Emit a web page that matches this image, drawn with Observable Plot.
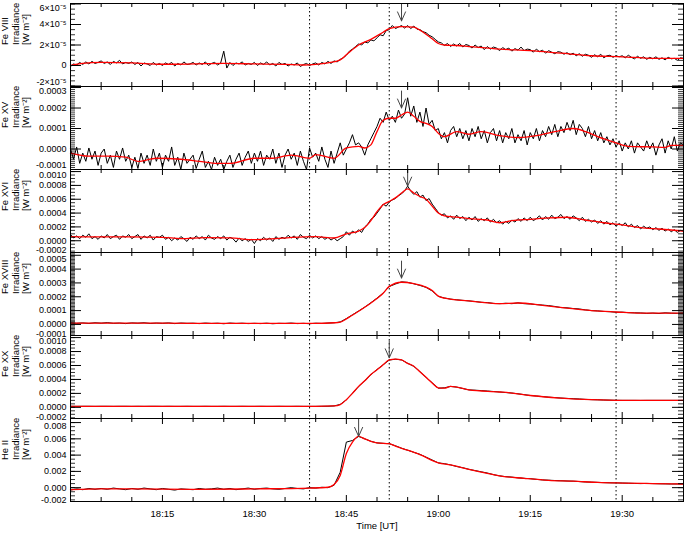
<!DOCTYPE html>
<html><head><meta charset="utf-8">
<script src="https://cdn.jsdelivr.net/npm/d3@7"></script>
<script src="https://cdn.jsdelivr.net/npm/@observablehq/plot@0.6"></script>
<style>
body{margin:0;background:#fff;}
#chart{width:685px;}
#chart svg{display:block;overflow:visible;}
</style></head><body><div id="chart"></div>
<script>
// ---- data (values in the unit given per panel; time in minutes after 18:00 UT) ----
const dottedMinutes = [39, 52, 89];
const xMajorMinutes = [15, 30, 45, 60, 75, 90];
const xMinorMinutes = [5,10,20,25,35,40,50,55,65,70,80,85,95];

// Fe VIII (1e-5 W m^-2), black sampled every 0.5 min
const feVIII_black = [
-0.1,0.15,0.05,0.3,0.1,0.35,0.15,0.4,0.2,0.3,
0.45,0.2,0.35,0.1,0.4,0.25,0.5,0.15,0.3,0.2,
0.35,0.1,0.3,-0.05,0.25,0.15,0.0,0.3,0.05,0.2,
0.0,0.25,0.1,0.3,-0.05,0.2,0.05,0.35,0.1,0.15,
0.3,0.05,0.25,0.1,0.35,0.0,0.2,0.3,0.05,0.25,
1.4,-0.25,0.3,0.0,0.25,0.15,0.35,0.05,0.2,0.1,
0.3,0.0,0.25,0.1,0.35,0.05,0.2,-0.05,0.3,0.1,
0.2,-0.05,0.15,0.05,0.25,-0.1,0.1,0.2,0.0,0.15,
0.25,0.05,0.3,0.15,0.4,0.2,0.45,0.35,0.6,0.75,
1.0,1.4,1.6,1.85,2.1,2.0,2.3,2.2,2.5,2.4,
2.7,3.0,2.9,3.4,3.5,3.9,3.6,3.75,3.9,3.65,
3.9,3.6,3.85,3.55,3.5,3.3,3.2,2.95,2.8,2.55,
2.3,2.2,1.95,2.15,1.85,2.1,1.9,2.15,1.8,2.05,
1.95,1.7,2.0,1.75,1.9,1.55,1.85,1.6,1.8,1.7,
1.45,1.75,1.55,1.7,1.4,1.65,1.5,1.8,1.45,1.6,
1.55,1.3,1.6,1.35,1.5,1.2,1.45,1.3,1.15,1.35,
1.3,1.1,1.25,1.05,1.2,0.95,1.15,0.9,1.1,1.0,
0.8,1.05,0.85,1.1,0.75,0.95,1.0,0.8,0.95,0.85,
0.95,0.75,1.0,0.8,0.65,0.9,0.7,0.85,0.6,0.8,
0.65,0.85,0.6,0.75,0.55,0.8,0.65,0.7,0.5,0.75,
0.7];
const feVIII_redMin = [0,2,5,10,15,20,25,30,35,38,40,42,44,45,47,49,51,52,54,56,57,58,59,60,61,63,65,70,75,80,85,90,95,100];
const feVIII_red = [0.0,0.2,0.3,0.25,0.12,0.15,0.2,0.15,0.1,0.05,0.1,0.25,0.55,1.05,2.0,2.55,3.25,3.6,3.8,3.75,3.45,3.05,2.6,2.15,2.0,1.95,1.85,1.6,1.45,1.2,0.95,0.85,0.7,0.7];
const feVIII_ticks = [-2,0,2,4,6];
const feVIII_tickLabels = ["-2×10⁻⁵","0","2×10⁻⁵","4×10⁻⁵","6×10⁻⁵"];
const feVIII_arrow = [54, 4.35];   // [minute, arrow tip value]

// Fe XV (1e-4 W m^-2), black every 0.5 min
const feXV_black = [
0.0,-0.5,0.1,-0.7,-0.2,-0.6,0.05,-0.5,-0.1,-0.8,
-0.2,0.0,-0.7,-0.3,-0.9,-0.1,-0.5,0.05,-0.6,-0.3,
-0.9,-0.4,-0.95,-0.2,-0.7,-0.3,-0.8,0.0,-0.6,-0.2,
-0.9,-0.3,-0.6,0.1,-0.8,-0.4,-1.0,-0.2,-0.7,-0.5,
-0.3,-0.95,-0.5,-0.1,-0.9,-0.6,-1.0,-0.4,-0.8,-0.5,
-1.0,-0.6,-0.3,-0.9,-0.5,-0.2,-0.8,-0.4,-0.1,-0.7,
-0.2,-0.6,-0.1,-0.8,-0.3,-0.5,0.0,-0.7,-0.2,-0.9,
-0.3,0.0,-0.5,-0.2,-0.8,-0.1,-0.6,-1.0,0.05,-0.4,
-0.2,-0.6,0.1,-0.5,-0.9,-0.1,-0.7,-0.2,0.3,-0.3,
0.0,0.3,0.7,0.2,0.3,0.1,-0.3,0.2,0.5,0.8,
1.1,1.5,1.3,1.8,1.4,1.6,1.3,1.9,1.5,1.7,
2.5,1.6,2.1,1.3,1.8,1.1,2.0,1.2,1.4,0.9,
1.0,0.5,0.8,0.3,0.9,1.1,0.6,1.0,0.5,0.9,
0.4,1.0,0.6,1.1,0.5,0.9,0.3,0.8,1.0,0.4,
0.9,0.3,0.8,0.5,1.0,0.3,0.7,0.4,0.9,0.2,
0.8,0.5,1.0,0.4,0.9,0.6,1.1,0.7,1.2,0.6,
1.1,0.8,1.3,0.9,1.4,0.7,1.2,1.0,0.6,1.1,
0.5,0.9,0.4,0.8,0.3,0.6,0.2,0.5,0.1,0.4,
-0.1,0.3,0.0,0.4,-0.2,0.3,0.1,-0.1,0.4,0.0,
0.3,-0.3,0.2,0.5,-0.2,0.4,0.0,0.6,-0.1,0.3,
0.2];
const feXV_redMin = [0,3,6,9,11,14,18,21,24,26,30,33,36,39,40,43,45,47,48,49,50,51,52,53,54,55,56,57,58,59,60,61,63,65,67,70,73,76,79,82,84,86,89,91,95,97,98,100];
const feXV_red = [-0.2,-0.35,-0.35,-0.4,-0.6,-0.45,-0.5,-0.6,-0.7,-0.7,-0.45,-0.45,-0.3,-0.45,-0.27,-0.45,0.05,0.13,0.05,0.2,0.85,1.4,1.5,1.5,1.66,1.8,1.6,1.35,1.25,1.1,0.77,0.6,0.85,0.72,0.85,0.65,0.56,0.65,0.85,1.0,0.85,0.6,0.3,0.13,0.1,0.08,0.18,0.18];
const feXV_ticks = [-1,0,1,2,3];
const feXV_tickLabels = ["-0.0001","0.0000","0.0001","0.0002","0.0003"];
const feXV_arrow = [54, 2.0];

// Fe XVI (1e-4 W m^-2), black every 0.5 min
const feXVI_black = [
0.9,0.4,0.7,0.3,0.8,0.5,1.0,0.3,0.6,0.2,
0.7,0.4,0.9,0.3,0.6,0.8,0.2,0.7,0.5,0.9,
0.3,0.6,0.9,0.2,0.7,0.4,0.8,0.1,0.6,0.5,
0.8,0.2,0.5,0.0,0.4,0.1,0.6,0.3,-0.1,0.5,
0.2,0.7,0.3,0.6,0.1,0.8,0.4,0.2,0.6,0.3,
0.7,0.1,0.5,0.3,-0.2,0.4,0.0,0.3,-0.1,0.2,
-0.4,0.3,0.0,0.5,0.1,0.4,-0.1,0.6,0.2,0.5,
0.3,0.8,0.4,0.7,0.2,0.9,0.5,0.3,0.8,0.4,
0.7,0.3,0.6,0.2,0.5,0.1,0.4,0.0,0.3,0.6,
1.3,0.8,1.4,1.1,1.6,1.2,2.0,2.4,3.1,3.4,
4.0,4.6,5.3,5.0,5.6,5.9,6.1,6.5,6.8,7.2,
7.9,7.2,6.7,7.1,6.3,6.6,5.8,6.1,5.3,4.7,
4.1,3.7,3.9,3.3,3.6,3.1,3.7,3.2,3.5,2.9,
3.4,3.0,3.5,2.8,3.2,2.9,3.3,2.7,3.1,2.6,
2.9,2.4,2.8,2.5,3.0,2.7,3.2,2.8,3.3,2.9,
3.4,2.9,3.2,3.6,3.0,3.5,3.1,3.7,3.2,3.4,
3.8,3.2,3.5,3.1,3.6,3.3,2.9,3.4,2.8,3.1,
2.7,3.0,2.5,2.9,2.4,2.8,2.3,2.6,2.1,2.5,
2.2,2.6,2.0,2.4,1.9,2.2,1.7,2.1,1.8,2.0,
1.6,1.9,1.5,1.8,1.4,1.7,1.3,1.6,1.2,1.5,
1.4];
const feXVI_redMin = [0,5,10,15,18,22,26,30,34,38,40,43,45,47,48,49,50,51,52,53,54,55,56,57,58,59,60,61,63,65,68,70,72,75,78,81,84,87,90,93,96,100];
const feXVI_red = [0.6,0.55,0.55,0.5,0.3,0.45,0.4,0.15,0.35,0.55,0.6,0.4,1.0,1.4,1.9,2.9,4.2,5.2,5.7,6.2,6.9,7.5,6.9,6.4,6.0,5.0,4.0,3.6,3.4,3.2,3.0,2.6,2.9,3.1,3.3,3.4,3.0,2.6,2.3,1.9,1.7,1.4];
const feXVI_ticks = [-2,0,2,4,6,8,10];
const feXVI_tickLabels = ["-0.0002","0.0000","0.0002","0.0004","0.0006","0.0008","0.0010"];
const feXVI_arrow = [55, 7.9];

// Fe XVIII (1e-4 W m^-2), black every 1 min
const feXVIII_black = [
0.12,0.08,0.11,0.07,0.12,0.09,0.13,0.08,0.1,0.06,
0.11,0.09,0.12,0.07,0.1,0.08,0.11,0.06,0.1,0.08,
0.09,0.06,0.1,0.07,0.09,0.05,0.1,0.07,0.09,0.06,
0.08,0.06,0.09,0.05,0.08,0.07,0.1,0.06,0.08,0.05,
0.09,0.07,0.1,0.12,0.18,0.42,0.7,0.97,1.25,1.57,
1.9,2.27,2.74,2.92,3.08,3.04,2.94,2.82,2.68,2.42,
2.03,1.91,1.83,1.78,1.74,1.7,1.66,1.6,1.58,1.52,
1.5,1.53,1.5,1.56,1.5,1.48,1.43,1.4,1.36,1.3,
1.22,1.2,1.15,1.12,1.05,1.0,0.98,0.94,0.92,0.88,
0.89,0.85,0.84,0.83,0.8,0.82,0.79,0.84,0.81,0.8,
0.82];
const feXVIII_redMin = [0,10,20,30,40,43,44,45,47,49,51,52,54,56,58,59,60,61,65,70,73,77,81,85,89,93,100];
const feXVIII_red = [0.1,0.1,0.08,0.08,0.08,0.12,0.17,0.4,0.95,1.55,2.25,2.75,3.05,2.95,2.7,2.45,2.05,1.9,1.7,1.5,1.55,1.38,1.18,1.0,0.9,0.82,0.82];
const feXVIII_ticks = [-1,0,1,2,3,4,5];
const feXVIII_tickLabels = ["-0.0001","0.0000","0.0001","0.0002","0.0003","0.0004","0.0005"];
const feXVIII_arrow = [54, 3.35];

// Fe XX (1e-4 W m^-2), black every 1 min
const feXX_black = [
0.15,0.14,0.15,0.15,0.14,0.15,0.15,0.14,0.15,0.15,
0.14,0.15,0.14,0.15,0.15,0.14,0.15,0.14,0.14,0.15,
0.14,0.14,0.15,0.14,0.14,0.15,0.14,0.14,0.15,0.14,
0.14,0.15,0.14,0.14,0.15,0.14,0.14,0.15,0.14,0.14,
0.14,0.15,0.16,0.2,0.42,1.08,2.02,2.98,3.82,4.68,
5.42,6.1,6.78,6.9,6.8,6.32,5.88,5.12,4.3,3.52,
2.74,2.8,3.0,2.9,2.7,2.5,2.46,2.4,2.34,2.27,
2.2,2.12,2.05,1.94,1.82,1.7,1.62,1.54,1.46,1.4,
1.33,1.28,1.24,1.2,1.14,1.1,1.08,1.05,1.03,1.01,
1.0,1.0,1.0,0.99,1.0,1.0,1.0,1.0,1.0,1.0,
1.0];
const feXX_redMin = [0,20,40,43,44,45,46,47,48,49,50,51,52,53,54,55,56,57,58,59,60,61,62,63,65,70,72,75,80,85,90,100];
const feXX_red = [0.15,0.14,0.14,0.2,0.4,1.1,2.0,3.0,3.8,4.7,5.4,6.1,6.8,6.9,6.8,6.3,5.9,5.1,4.3,3.5,2.8,2.75,3.0,2.9,2.5,2.2,2.05,1.7,1.33,1.1,1.0,1.0];
const feXX_ticks = [-2,0,2,4,6,8,10];
const feXX_tickLabels = ["-0.0002","0.0000","0.0002","0.0004","0.0006","0.0008","0.0010"];
const feXX_arrow = [52, 7.1];

// He II (1e-3 W m^-2), black every 1 min
const heII_black = [
-0.3,-0.15,-0.25,-0.1,-0.2,-0.1,-0.2,-0.05,-0.15,-0.25,
-0.1,-0.2,-0.05,-0.15,-0.25,-0.1,-0.2,-0.3,-0.15,-0.2,
-0.25,-0.1,-0.2,-0.15,-0.05,-0.2,-0.1,-0.25,-0.15,-0.05,
-0.2,-0.1,-0.05,-0.15,-0.2,-0.1,0.0,-0.1,-0.15,0.0,
-0.05,0.05,0.0,0.3,1.9,5.6,5.8,6.3,6.0,5.7,
5.5,5.45,5.4,5.15,4.85,4.6,4.35,4.1,3.75,3.4,
3.05,2.95,2.8,2.6,2.45,2.25,2.1,1.95,1.8,1.6,
1.45,1.35,1.3,1.2,1.15,1.1,1.02,0.95,0.92,0.88,
0.85,0.82,0.8,0.75,0.7,0.68,0.65,0.62,0.6,0.58,
0.57,0.55,0.52,0.5,0.52,0.5,0.48,0.47,0.45,0.46,
0.45];
const heII_redMin = [0,5,10,20,30,39,42,43,44,45,46,47,48,49,50,52,53,55,57,60,62,65,68,70,74,78,82,86,90,95,100];
const heII_red = [-0.25,-0.15,-0.15,-0.2,-0.15,-0.05,0.05,0.4,1.5,4.2,5.6,6.3,6.0,5.7,5.5,5.4,5.1,4.6,4.05,3.05,2.8,2.25,1.75,1.45,1.15,0.9,0.8,0.65,0.57,0.5,0.45];
const heII_ticks = [-2,0,2,4,6,8];
const heII_tickLabels = ["-0.002","0.000","0.002","0.004","0.006","0.008"];
const heII_arrow = [47, 6.3];

// ---- panel definitions ----
const panels = [
  {label:"Fe VIII\nIrradiance\n[W m⁻²]", domain:[-2.05,6.05], ticks:feVIII_ticks, tickLabels:feVIII_tickLabels, minorStep:0.5, black:feVIII_black, step:0.5, redMin:feVIII_redMin, red:feVIII_red, arrow:feVIII_arrow},
  {label:"Fe XV\nIrradiance\n[W m⁻²]", domain:[-1.0,3.05], ticks:feXV_ticks, tickLabels:feXV_tickLabels, minorStep:0.1, black:feXV_black, step:0.5, redMin:feXV_redMin, red:feXV_red, arrow:feXV_arrow},
  {label:"Fe XVI\nIrradiance\n[W m⁻²]", domain:[-1.7,10.3], ticks:feXVI_ticks, tickLabels:feXVI_tickLabels, minorStep:0.5, black:feXVI_black, step:0.5, redMin:feXVI_redMin, red:feXVI_red, arrow:feXVI_arrow},
  {label:"Fe XVIII\nIrradiance\n[W m⁻²]", domain:[-0.8,5.2], ticks:feXVIII_ticks, tickLabels:feXVIII_tickLabels, minorStep:0.1, black:feXVIII_black, step:1, redMin:feXVIII_redMin, red:feXVIII_red, arrow:feXVIII_arrow},
  {label:"Fe XX\nIrradiance\n[W m⁻²]", domain:[-1.6,10.3], ticks:feXX_ticks, tickLabels:feXX_tickLabels, minorStep:0.5, black:feXX_black, step:1, redMin:feXX_redMin, red:feXX_red, arrow:feXX_arrow},
  {label:"He II\nIrradiance\n[W m⁻²]", domain:[-1.7,8.5], ticks:heII_ticks, tickLabels:heII_tickLabels, minorStep:0.5, black:heII_black, step:1, redMin:heII_redMin, red:heII_red, arrow:heII_arrow}
];

const t0 = Date.UTC(2011, 1, 15, 18, 0);
const toDate = m => new Date(t0 + m * 60000);
const W = 685, ML = 70, MR = 2, H = 83;
const PW = W - ML - MR;
const FONT = "'Liberation Sans', Arial, Helvetica, sans-serif";
const fmtTime = d3.utcFormat("%H:%M");

// open "V" arrow pointing down, tip at the anchor
const downArrow = {
  draw(context, l) {
    context.moveTo(0, 0); context.lineTo(0, -l);
    context.moveTo(-4, -9); context.lineTo(0, 0); context.lineTo(4, -9);
  }
};

const chart = document.getElementById("chart");

panels.forEach((p, i) => {
  const last = i === panels.length - 1;
  const mt = i === 0 ? 3 : 0;
  const mb = last ? 32 : 0;
  const blackData = p.black.map((v, k) => ({t: toDate(k * p.step), v}));
  const redData = p.redMin.map((m, k) => ({t: toDate(m), v: p.red[k]}));
  const eps = 1e-9;
  const minor = d3.range(Math.ceil(p.domain[0] / p.minorStep - eps), Math.floor(p.domain[1] / p.minorStep + eps) + 1)
    .map(k => k * p.minorStep);
  const majorIn = p.ticks.filter(v => v >= p.domain[0] - eps && v <= p.domain[1] + eps);
  const lab = v => p.tickLabels[p.ticks.findIndex(t => Math.abs(t - v) < 1e-6)];
  const xMaj = xMajorMinutes.map(toDate), xMin = xMinorMinutes.map(toDate);
  const axisOpts = {tickSize: 0, tickPadding: 4, tickFormat: lab, label: null, fontSize: 9, fill: "black"};

  const marks = [
    Plot.ruleX(dottedMinutes, {x: d => toDate(d), stroke: "black", strokeWidth: 1, strokeDasharray: "1.5,2.5"}),
    Plot.line(blackData, {x: "t", y: "v", stroke: "black", strokeWidth: 1}),
    Plot.line(redData, {x: "t", y: "v", stroke: "#ff0000", strokeWidth: 1.3, curve: "monotone-x"}),
    Plot.vector([p.arrow], {x: d => toDate(d[0]), y: d => d[1], length: 17, rotate: 0, anchor: "start", shape: downArrow, stroke: "#444", strokeWidth: 1}),
    Plot.tickY(minor, {y: d => d, insetRight: PW - 5, stroke: "black", strokeWidth: 0.8}),
    Plot.tickY(minor, {y: d => d, insetLeft: PW - 5, stroke: "black", strokeWidth: 0.8}),
    Plot.tickY(majorIn, {y: d => d, insetRight: PW - 11, stroke: "black"}),
    Plot.tickY(majorIn, {y: d => d, insetLeft: PW - 11, stroke: "black"}),
    Plot.tickX(xMin, {x: d => d, insetTop: H - 4, stroke: "black"}),
    Plot.tickX(xMin, {x: d => d, insetBottom: H - 4, stroke: "black"}),
    Plot.tickX(xMaj, {x: d => d, insetTop: H - 6, stroke: "black"}),
    Plot.tickX(xMaj, {x: d => d, insetBottom: H - 6, stroke: "black"}),
    Plot.frame({stroke: "black", strokeWidth: 1}),
    Plot.axisY(p.ticks.slice(1, -1), axisOpts),
    Plot.axisY(p.ticks.slice(0, 1), {...axisOpts, dy: -4}),
    Plot.axisY(p.ticks.slice(-1), {...axisOpts, dy: 4}),
    Plot.text([p.label], {frameAnchor: "left", dx: -55, rotate: -90, text: d => d, fontSize: 9.5, lineHeight: 1.1, fill: "black"})
  ];
  if (last) {
    marks.push(Plot.axisX(xMaj, {tickSize: 0, tickPadding: 9, tickFormat: fmtTime, label: null, fontSize: 9.5, fill: "black"}));
    marks.push(Plot.text(["Time [UT]"], {frameAnchor: "bottom", dy: 27, text: d => d, fontSize: 9.5, fill: "black"}));
  }

  const svg = Plot.plot({
    width: W, height: H + mt + mb,
    marginLeft: ML, marginRight: MR, marginTop: mt, marginBottom: mb,
    x: {type: "utc", domain: [toDate(0), toDate(100)], axis: last ? undefined : null},
    y: {domain: p.domain},
    style: {background: "transparent", overflow: "visible", fontFamily: FONT, fontSize: "9px", color: "black"},
    marks
  });
  chart.appendChild(svg);
});
</script>
</body></html>
